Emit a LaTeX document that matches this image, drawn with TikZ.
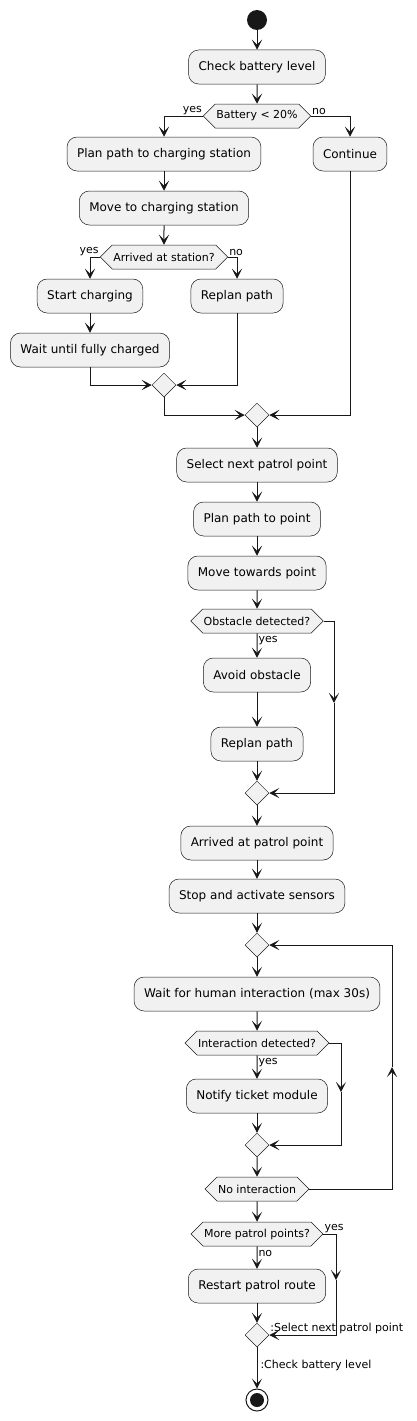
\documentclass[tikz,border=0pt]{standalone}
\usepackage{fontspec}
\setmainfont{DejaVu Sans}
\usetikzlibrary{shapes.geometric,shapes.symbols,arrows.meta}
\definecolor{actfill}{HTML}{F1F1F1}
\definecolor{actline}{HTML}{181818}

\begin{document}
\begin{tikzpicture}[x=1pt,y=-1pt,
   act/.style={draw=actline, line width=0.5pt, fill=actfill, rounded corners=10pt,
     minimum height=34pt, inner xsep=10pt, font=\fontsize{12}{14}\selectfont},
   cond/.style={draw=actline, line width=0.5pt, fill=actfill, signal,
     signal to=east and west, signal pointer angle=90, minimum height=24pt,
     inner xsep=1pt, inner ysep=0pt, font=\fontsize{11}{13}\selectfont},
   merge/.style={draw=actline, line width=0.5pt, fill=actfill, diamond,
     minimum size=24pt, inner sep=0pt},
   flow/.style={draw=actline, line width=1pt, -{Stealth[length=10pt,width=10pt,inset=5pt]}},
   lbl/.style={font=\fontsize{11}{13}\selectfont, inner sep=1pt}]
   \useasboundingbox (0,0) rectangle (417,1421);

   % charging part
   \node[circle, fill=actline, minimum size=20pt, inner sep=0pt] (start) at (257,20) {};
   \node[act] (chk) at (257,67) {Check battery level};
   \node[cond] (bat) at (257,116) {Battery < 20\%};
   \node[act] (plan) at (164,154) {Plan path to charging station};
   \node[act] (cont) at (350,154) {Continue};
   \node[act] (move) at (164,208) {Move to charging station};
   \node[cond] (arr) at (164,257) {Arrived at station?};
   \node[act] (charge) at (90,296) {Start charging};
   \node[act] (replan) at (237,296) {Replan path};
   \node[act] (wait) at (90,350) {Wait until fully charged};
   \node[merge] (m1) at (164,385) {};
   \node[merge] (m2) at (257,415) {};

   \draw[flow] (start) -- (chk);
   \draw[flow] (chk) -- (bat);
   \draw[flow] (bat.west) -| (plan);
   \draw[flow] (bat.east) -| (cont);
   \node[lbl, anchor=south east] (batyes) at (bat.west) {yes};
   \node[lbl, anchor=south west] (batno) at (bat.east) {no};
   \draw[flow] (plan) -- (move);
   \draw[flow] (move) -- (arr);
   \draw[flow] (arr.west) -| (charge);
   \draw[flow] (arr.east) -| (replan);
   \node[lbl, anchor=south east] (arryes) at (arr.west) {yes};
   \node[lbl, anchor=south west] (arrno) at (arr.east) {no};
   \draw[flow] (charge) -- (wait);
   \draw[flow] (wait) |- (m1);
   \draw[flow] (replan) |- (m1);
   \draw[flow] (m1) |- (m2);
   \draw[flow] (cont) |- (m2);

   % patrol part
   \node[act] (sel) at (257,465) {Select next patrol point};
   \node[act] (ppt) at (257,519) {Plan path to point};
   \node[act] (mvpt) at (257,573) {Move towards point};
   \node[cond] (obs) at (257,621) {Obstacle detected?};
   \node[act] (avoid) at (257,675) {Avoid obstacle};
   \node[act] (replan2) at (257,744) {Replan path};
   \node[merge] (m3) at (257,793) {};
   \coordinate (obsmid) at (334,703);

   \draw[flow] (m2) -- (sel);
   \draw[flow] (sel) -- (ppt);
   \draw[flow] (ppt) -- (mvpt);
   \draw[flow] (mvpt) -- (obs);
   \draw[flow] (obs) -- (avoid) node[lbl, pos=0.3, right] (obsyes) {yes};
   \draw[flow] (avoid) -- (replan2);
   \draw[flow] (replan2) -- (m3);
   \draw[flow] (obs.east) -| (obsmid);
   \draw[flow] (obsmid) |- (m3);

   % sensors and interaction loop
   \node[act] (arrived) at (257,843) {Arrived at patrol point};
   \node[act] (stop) at (257,896) {Stop and activate sensors};
   \node[merge] (m4) at (257,945) {};
   \node[act] (waith) at (257,994) {Wait for human interaction (max 30s)};
   \node[cond] (inter) at (257,1043) {Interaction detected?};
   \node[act] (notify) at (257,1096) {Notify ticket module};
   \node[merge] (m5) at (257,1145) {};
   \node[cond] (noint) at (257,1189) {No interaction};
   \coordinate (intmid) at (341,1092);
   \coordinate (loopmid) at (392,1067);

   \draw[flow] (m3) -- (arrived);
   \draw[flow] (arrived) -- (stop);
   \draw[flow] (stop) -- (m4);
   \draw[flow] (m4) -- (waith);
   \draw[flow] (waith) -- (inter);
   \draw[flow] (inter) -- (notify) node[lbl, pos=0.3, right] (intyes) {yes};
   \draw[flow] (inter.east) -| (intmid);
   \draw[flow] (intmid) |- (m5);
   \draw[flow] (notify) -- (m5);
   \draw[flow] (m5) -- (noint);
   \draw[flow] (noint.east) -| (loopmid);
   \draw[flow] (loopmid) |- (m4);

   % end of round
   \node[cond] (more) at (257,1234) {More patrol points?};
   \node[act] (restart) at (257,1286) {Restart patrol route};
   \node[merge] (m6) at (257,1335) {};
   \node[circle, draw=actline, line width=1pt, minimum size=22pt, inner sep=0pt] (stopend) at (257,1400) {};
   \node[circle, fill=actline, minimum size=14pt, inner sep=0pt] (stopdot) at (stopend) {};
   \coordinate (moremid) at (336,1280);

   \draw[flow] (noint) -- (more);
   \draw[flow] (more) -- (restart) node[lbl, pos=0.3, right] (moreno) {no};
   \node[lbl, anchor=south west] (moreyes) at (more.east) {yes};
   \draw[flow] (more.east) -| (moremid);
   \draw[flow] (moremid) |- (m6);
   \draw[flow] (restart) -- (m6);
   \node[lbl, anchor=south west] (selnext) at (m6.east) {:Select next patrol point};
   \draw[flow] (m6) -- (stopend) node[lbl, pos=0.43, right, inner sep=3pt] (chkagain) {:Check battery level};
\end{tikzpicture}
\end{document}
